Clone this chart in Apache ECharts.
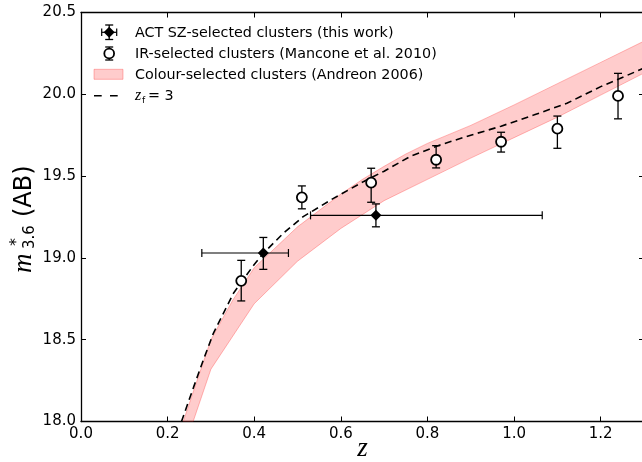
<!DOCTYPE html>
<html>
<head>
<meta charset="utf-8">
<script src="https://cdn.jsdelivr.net/npm/echarts@6/dist/echarts.min.js"></script>
<style>
  html, body { margin: 0; padding: 0; background: #fff; }
  #chart { width: 642px; height: 462px; }
</style>
</head>
<body>
<div id="chart"></div>
<script>
// ACT SZ-selected clusters: redshift, m*_3.6 and their error ranges
var actZ    = [0.421, 0.681];
var actM    = [19.03, 19.26];
var actZLo  = [0.279, 0.530];
var actZHi  = [0.479, 1.065];
var actMLo  = [18.93, 19.19];
var actMHi  = [19.125, 19.33];

// IR-selected clusters (Mancone et al. 2010)
var irZ   = [0.37, 0.51, 0.67, 0.82, 0.97, 1.10, 1.24];
var irM   = [18.86, 19.37, 19.46, 19.60, 19.71, 19.79, 19.99];
var irMLo = [18.737, 19.30, 19.34, 19.55, 19.647, 19.67, 19.85];
var irMHi = [18.985, 19.44, 19.548, 19.686, 19.768, 19.867, 20.128];

// Colour-selected clusters band (Andreon 2006): upper and lower edges
var bandUpZ = [0.236, 0.30, 0.35, 0.40, 0.50, 0.60, 0.65, 0.70, 0.75, 0.80, 0.90, 1.00, 1.10, 1.20, 1.30];
var bandUpM = [18.00, 18.50, 18.74, 18.94, 19.19, 19.39, 19.48, 19.56, 19.635, 19.70, 19.81, 19.935, 20.065, 20.195, 20.325];
var bandLoZ = [0.259, 0.30, 0.40, 0.50, 0.60, 0.70, 0.80, 0.90, 1.00, 1.10, 1.20, 1.30];
var bandLoM = [18.00, 18.32, 18.72, 18.98, 19.18, 19.35, 19.48, 19.61, 19.735, 19.86, 19.995, 20.13];

// Passive evolution model with formation redshift z_f = 3
var zf3Z = [0.232, 0.26, 0.2825, 0.3056, 0.352, 0.40, 0.421, 0.467, 0.513, 0.583, 0.652, 0.70, 0.76, 0.829, 0.90, 0.97, 1.045, 1.122, 1.20, 1.30];
var zf3M = [18.00, 18.21, 18.376, 18.539, 18.784, 18.96, 19.028, 19.15, 19.252, 19.364, 19.466, 19.53, 19.62, 19.69, 19.75, 19.805, 19.873, 19.945, 20.047, 20.16];

// Axis ranges and tick steps
var xRange = [0, 1.3], xStep = 0.2;
var yRange = [18.0, 20.5], yStep = 0.5;

// Legend entries
var legendLabels = [
  'ACT SZ-selected clusters (this work)',
  'IR-selected clusters (Mancone et al. 2010)',
  'Colour-selected clusters (Andreon 2006)'
];

var SANS = '"DejaVu Sans", sans-serif';
var SERIF = '"Liberation Serif", "DejaVu Serif", serif';
var BAND_FILL = 'rgba(255,0,0,0.2)';
var BAND_EDGE = 'rgba(255,60,60,0.35)';

var chart = echarts.init(document.getElementById('chart'), null, { renderer: 'canvas' });

function zip(a, b) { return a.map(function (v, i) { return [v, b[i]]; }); }

function axisBase(pos, showLabels, isX) {
  var r = isX ? xRange : yRange;
  var s = isX ? xStep : yStep;
  return {
    type: 'value', position: pos, min: r[0], max: r[1], interval: s,
    axisLine: { show: true, onZero: false, lineStyle: { color: '#000', width: 1.3 } },
    axisTick: { show: true, inside: true, length: 5, lineStyle: { color: '#000', width: 1 } },
    axisLabel: {
      show: showLabels, margin: 5, color: '#000', fontSize: 15, fontFamily: SANS,
      showMaxLabel: !isX,
      formatter: function (v) { return v.toFixed(1); }
    },
    splitLine: { show: false }
  };
}

function seg(x1, y1, x2, y2, w) {
  return { type: 'line', shape: { x1: x1, y1: y1, x2: x2, y2: y2 },
           style: { stroke: '#000', lineWidth: w || 1.3 } };
}

var option = {
  animation: false,
  backgroundColor: '#fff',
  grid: { left: 81, top: 12.5, width: 563, height: 409, containLabel: false, outerBoundsMode: 'none' },
  xAxis: [ axisBase('bottom', true, true), axisBase('top', false, true) ],
  yAxis: [ axisBase('left', true, false), axisBase('right', false, false) ],
  series: [
    {
      // shaded band between the two edges
      type: 'custom', coordinateSystem: 'cartesian2d', silent: true, clip: true, z: 1,
      data: [[bandUpZ[0], bandUpM[0]]],
      renderItem: function (params, api) {
        var pts = [];
        for (var i = 0; i < bandUpZ.length; i++) pts.push(api.coord([bandUpZ[i], bandUpM[i]]));
        for (var j = bandLoZ.length - 1; j >= 0; j--) pts.push(api.coord([bandLoZ[j], bandLoM[j]]));
        return { type: 'polygon', shape: { points: pts },
                 style: { fill: BAND_FILL, stroke: BAND_EDGE, lineWidth: 1 } };
      }
    },
    {
      type: 'line', data: zip(zf3Z, zf3M), showSymbol: false, symbol: 'none', z: 2,
      lineStyle: { color: '#000', width: 1.6, type: [7, 4.5] }, silent: true
    },
    {
      // IR y-error bars
      type: 'custom', coordinateSystem: 'cartesian2d', silent: true, z: 3,
      data: irZ.map(function (z, i) { return [z, irMLo[i], irMHi[i]]; }),
      encode: { x: 0, y: [1, 2] },
      renderItem: function (params, api) {
        var lo = api.coord([api.value(0), api.value(1)]);
        var hi = api.coord([api.value(0), api.value(2)]);
        var c = 4;
        return { type: 'group', children: [
          seg(lo[0], lo[1], hi[0], hi[1]),
          seg(lo[0] - c, lo[1], lo[0] + c, lo[1]),
          seg(hi[0] - c, hi[1], hi[0] + c, hi[1])
        ] };
      }
    },
    {
      // ACT x- and y-error bars
      type: 'custom', coordinateSystem: 'cartesian2d', silent: true, z: 3,
      data: actZ.map(function (z, i) { return [z, actM[i], actZLo[i], actZHi[i], actMLo[i], actMHi[i]]; }),
      encode: { x: [0, 2, 3], y: [1, 4, 5] },
      renderItem: function (params, api) {
        var z = api.value(0), m = api.value(1);
        var l = api.coord([api.value(2), m]);
        var r = api.coord([api.value(3), m]);
        var b = api.coord([z, api.value(4)]);
        var t = api.coord([z, api.value(5)]);
        var c = 4;
        return { type: 'group', children: [
          seg(l[0], l[1], r[0], r[1], 1.2),
          seg(l[0], l[1] - c, l[0], l[1] + c, 1.2),
          seg(r[0], r[1] - c, r[0], r[1] + c, 1.2),
          seg(b[0], b[1], t[0], t[1]),
          seg(b[0] - c, b[1], b[0] + c, b[1]),
          seg(t[0] - c, t[1], t[0] + c, t[1])
        ] };
      }
    },
    {
      type: 'scatter', data: zip(irZ, irM), symbol: 'circle', symbolSize: 10, z: 4,
      itemStyle: { color: '#fff', borderColor: '#000', borderWidth: 1.8, opacity: 1 }, silent: true
    },
    {
      type: 'scatter', data: zip(actZ, actM), symbol: 'diamond', symbolSize: 11, z: 5,
      itemStyle: { color: '#000', opacity: 1 }, silent: true
    }
  ],
  graphic: [
    // y-axis title: m*_{3.6} (AB)
    {
      type: 'group', x: 32, y: 273, rotation: Math.PI / 2, silent: true,
      children: [
        { type: 'text', x: 0, y: -8.1, style: { text: 'm', font: 'italic 27px ' + SERIF, fill: '#000', verticalAlign: 'middle', align: 'left' } },
        { type: 'text', x: 27, y: -14.8, style: { text: '*', font: '16px ' + SANS, fill: '#000', verticalAlign: 'middle', align: 'left' } },
        { type: 'text', x: 24, y: -1.5, style: { text: '3.6', font: '15px ' + SANS, fill: '#000', verticalAlign: 'middle', align: 'left' } },
        { type: 'text', x: 56, y: -7.2, style: { text: '(AB)', font: '24px ' + SANS, fill: '#000', verticalAlign: 'middle', align: 'left' } }
      ]
    },
    // x-axis title
    { type: 'text', x: 362.5, y: 449, silent: true,
      style: { text: 'z', font: 'italic 27px ' + SERIF, fill: '#000', align: 'center', verticalAlign: 'middle' } },

    // legend: ACT handle
    { type: 'group', silent: true, children: [
      seg(101.7, 32.3, 116.7, 32.3, 1.2),
      seg(101.7, 28.5, 101.7, 36.1, 1.2),
      seg(116.7, 28.5, 116.7, 36.1, 1.2),
      seg(109.2, 25, 109.2, 39.5),
      seg(105.2, 25, 113.2, 25),
      seg(105.2, 39.5, 113.2, 39.5),
      { type: 'polygon', shape: { points: [[109.2, 26.8], [114.7, 32.3], [109.2, 37.8], [103.7, 32.3]] }, style: { fill: '#000' } }
    ] },
    // legend: IR handle
    { type: 'group', silent: true, children: [
      seg(109.2, 47, 109.2, 60),
      seg(105.2, 47, 113.2, 47),
      seg(105.2, 60, 113.2, 60),
      { type: 'circle', shape: { cx: 109.2, cy: 53.5, r: 4.9 }, style: { fill: '#fff', stroke: '#000', lineWidth: 1.8 } }
    ] },
    // legend: band handle
    { type: 'rect', silent: true, shape: { x: 94, y: 69.3, width: 29, height: 10 }, style: { fill: BAND_FILL, stroke: BAND_EDGE, lineWidth: 1 } },
    // legend: dashed handle
    { type: 'line', silent: true, shape: { x1: 94, y1: 95.7, x2: 123, y2: 95.7 }, style: { stroke: '#000', lineWidth: 1.6, lineDash: [7.7, 8.3] } },

    // legend texts
    { type: 'text', x: 135, y: 33, silent: true, style: { text: legendLabels[0], font: '14.3px ' + SANS, fill: '#000', verticalAlign: 'middle' } },
    { type: 'text', x: 135, y: 54, silent: true, style: { text: legendLabels[1], font: '14.3px ' + SANS, fill: '#000', verticalAlign: 'middle' } },
    { type: 'text', x: 135, y: 75, silent: true, style: { text: legendLabels[2], font: '14.3px ' + SANS, fill: '#000', verticalAlign: 'middle' } },
    { type: 'text', x: 135, y: 95.5, silent: true, style: { text: 'z', font: 'italic 16px ' + SERIF, fill: '#000', verticalAlign: 'middle' } },
    { type: 'text', x: 142, y: 100.3, silent: true, style: { text: 'f', font: '9px ' + SANS, fill: '#000', verticalAlign: 'middle' } },
    { type: 'text', x: 148, y: 96, silent: true, style: { text: '= 3', font: '14.3px ' + SANS, fill: '#000', verticalAlign: 'middle' } }
  ]
};

chart.setOption(option);
</script>
</body>
</html>
